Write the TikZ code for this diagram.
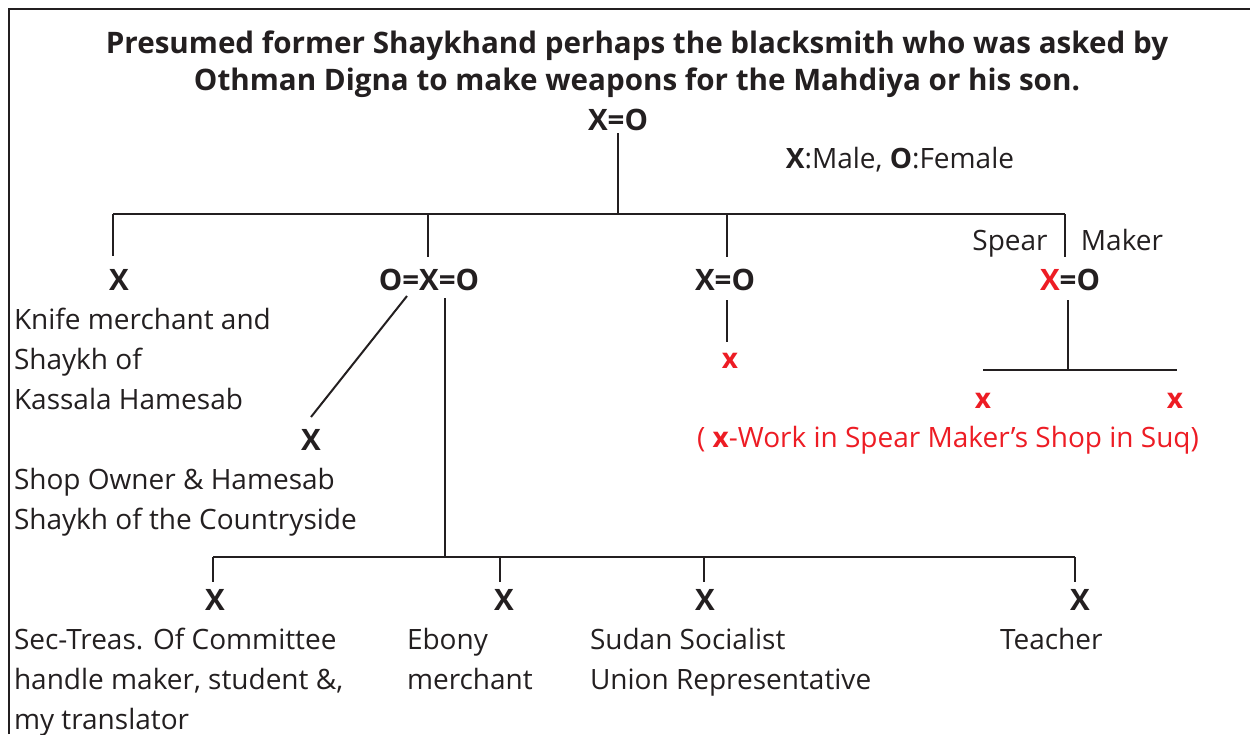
\documentclass[tikz,border=0pt]{standalone}
\usepackage{fontspec}
\setmainfont{Open Sans}
\definecolor{ink}{RGB}{35,31,32}
\definecolor{redx}{RGB}{237,28,36}
\begin{document}
\begin{tikzpicture}[x=1pt,y=-1pt,
  every node/.style={inner sep=0pt,outer sep=0pt,text=ink},
  lnk/.style={draw=ink,line width=2pt},
  titletxt/.style={font=\fontsize{29.6}{37.5}\selectfont\bfseries,align=center},
  gen/.style={font=\fontsize{29.5}{30}\selectfont\bfseries},
  plain/.style={font=\fontsize{28}{40}\selectfont},
  body/.style={font=\fontsize{28}{40}\selectfont,align=left,anchor=north west},
  redtxt/.style={font=\fontsize{28}{40}\selectfont,text=redx},
  redx/.style={font=\fontsize{28}{30}\selectfont\bfseries,text=redx}]
\useasboundingbox (0,0) rectangle (1250,734);
\draw[draw=ink,line width=2.5pt] (9,734) -- (9,9) -- (1250,9);
% title
\node[titletxt] (title) at (637,64) {Presumed former Shaykhand perhaps the blacksmith who was asked by\\Othman Digna to make weapons for the Mahdiya or his son.};
\node[gen] (c0) at (618,120) {X=O};
\node[plain] (leg) at (900,160) {\textbf{X}:Male, \textbf{O}:Female};
% generation 1 junction
\coordinate (j0) at (618,214);
\coordinate (a0) at (618,133);
\coordinate (h1) at (113,214);
\coordinate (h4) at (1065,214);
\draw[lnk] (a0) -- (j0);
\draw[lnk] (h1) -- (h4);
\coordinate (d1) at (113,256);
\coordinate (h2) at (428,214);
\coordinate (d2) at (428,257);
\coordinate (h3) at (727,214);
\coordinate (d3) at (727,257);
\coordinate (d4) at (1065,257);
\draw[lnk] (h1) -- (d1);
\draw[lnk] (h2) -- (d2);
\draw[lnk] (h3) -- (d3);
\draw[lnk] (h4) -- (d4);
\node[gen] (g1) at (119,280) {X};
\node[gen] (g2) at (429,280) {O=X=O};
\node[gen] (g3) at (725,280) {X=O};
\node[gen] (g4) at (1070,280) {\textcolor{redx}{X}=O};
\node[plain,anchor=base] (spear) at (1010,250) {Spear};
\node[plain,anchor=base] (maker) at (1122,250) {Maker};
% left text
\node[body] (knife) at (14,308) {Knife merchant and\\Shaykh of\\Kassala Hamesab};
% diagonal child
\coordinate (s1) at (407,296);
\coordinate (s2) at (311,417);
\draw[lnk] (s1) -- (s2);
\node[gen] (g5) at (311,440) {X};
\node[body] (shop) at (14,468) {Shop Owner \& Hamesab\\Shaykh of the Countryside};
% main trunk
\coordinate (m1) at (445,298);
\coordinate (m2) at (445,557);
\draw[lnk] (m1) -- (m2);
\coordinate (b1) at (213,557);
\coordinate (b4) at (1075,557);
\draw[lnk] (b1) -- (b4);
\coordinate (b2) at (500,557);
\coordinate (b3) at (704,557);
\coordinate (e1) at (213,582);
\coordinate (e2) at (500,582);
\coordinate (e3) at (704,582);
\coordinate (e4) at (1075,582);
\draw[lnk] (b1) -- (e1);
\draw[lnk] (b2) -- (e2);
\draw[lnk] (b3) -- (e3);
\draw[lnk] (b4) -- (e4);
\node[gen] (k1) at (215,600) {X};
\node[gen] (k2) at (504,600) {X};
\node[gen] (k3) at (705,600) {X};
\node[gen] (k4) at (1080,600) {X};
\node[body] (sec) at (14,628) {Sec-Treas. Of Committee\\handle maker, student \&,\\my translator};
\node[body] (ebony) at (407,628) {Ebony\\merchant};
\node[body] (sudan) at (590,628) {Sudan Socialist\\Union Representative};
\node[body] (teach) at (1000,628) {Teacher};
% middle branch
\coordinate (p1) at (727,300);
\coordinate (p2) at (727,342);
\draw[lnk] (p1) -- (p2);
\node[redx] (r1) at (730,361) {x};
% right branch
\coordinate (q1) at (1068,300);
\coordinate (q2) at (1068,370);
\coordinate (q3) at (983,370);
\coordinate (q4) at (1177,370);
\draw[lnk] (q1) -- (q2);
\draw[lnk] (q3) -- (q4);
\node[redx] (r2) at (983,401) {x};
\node[redx] (r3) at (1175,401) {x};
\node[redtxt] (note) at (948,440) {( \textbf{x}-Work in Spear Maker’s Shop in Suq)};
\end{tikzpicture}
\end{document}
